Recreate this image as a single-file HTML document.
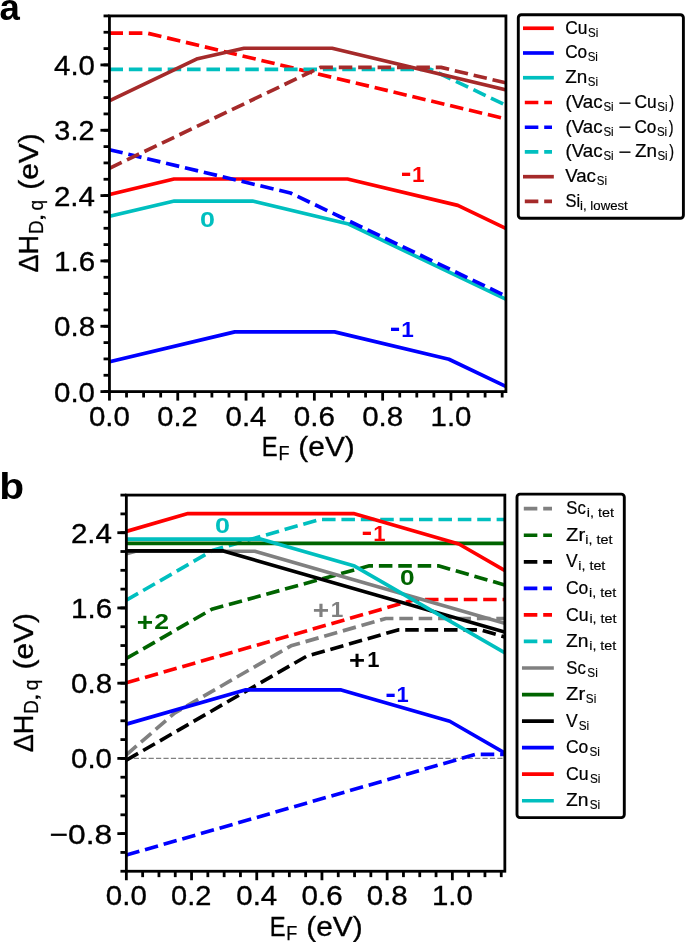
<!DOCTYPE html>
<html><head><meta charset="utf-8"><title>Formation energy diagrams</title>
<style>html,body{margin:0;padding:0;background:#fff;}body{width:685px;height:942px;overflow:hidden;font-family:"Liberation Sans",sans-serif;}svg{display:block;will-change:transform;}</style>
</head><body>
<svg width="685" height="942" viewBox="0 0 685 942" font-family="Liberation Sans, sans-serif">
<rect width="100%" height="100%" fill="#fff"/>
<defs>
<clipPath id="ca"><rect x="109.45" y="15.92" width="396.48" height="375.68"/></clipPath>
<clipPath id="cb"><rect x="126.35" y="495.09" width="378.49" height="376.16"/></clipPath>
</defs>
<path d="M109.45,194.45 L173.99,179.01 L347.48,179.01 L457.78,205.39 L505.93,228.42" fill="none" stroke="#ff0000" stroke-width="3.66" stroke-linejoin="round" stroke-linecap="square" clip-path="url(#ca)"/>
<path d="M109.45,361.87 L234.78,331.9 L334.5,331.9 L448.9,359.26 L505.93,386.54" fill="none" stroke="#0000ff" stroke-width="3.66" stroke-linejoin="round" stroke-linecap="square" clip-path="url(#ca)"/>
<path d="M109.45,216.17 L174.34,201.06 L252.54,201.06 L348.5,224.01 L505.93,299.31" fill="none" stroke="#00bfbf" stroke-width="3.66" stroke-linejoin="round" stroke-linecap="square" clip-path="url(#ca)"/>
<path d="M109.45,33.07 L147.01,33.07 L505.93,118.9" fill="none" stroke="#ff0000" stroke-width="3.66" stroke-linejoin="round" stroke-linecap="butt" stroke-dasharray="13.54,5.86" clip-path="url(#ca)"/>
<path d="M109.45,149.69 L290.44,192.98 L505.93,296.05" fill="none" stroke="#0000ff" stroke-width="3.66" stroke-linejoin="round" stroke-linecap="butt" stroke-dasharray="13.54,5.86" clip-path="url(#ca)"/>
<path d="M109.45,69.33 L430.8,69.33 L505.93,105.26" fill="none" stroke="#00bfbf" stroke-width="3.66" stroke-linejoin="round" stroke-linecap="butt" stroke-dasharray="13.54,5.86" clip-path="url(#ca)"/>
<path d="M109.45,100.85 L197.56,58.71 L244,48.26 L332.11,48.26 L505.93,89.83" fill="none" stroke="#a52a2a" stroke-width="3.66" stroke-linejoin="round" stroke-linecap="square" clip-path="url(#ca)"/>
<path d="M109.45,168.23 L320.33,67.37 L441.05,67.37 L505.93,82.89" fill="none" stroke="#a52a2a" stroke-width="3.66" stroke-linejoin="round" stroke-linecap="butt" stroke-dasharray="13.54,5.86" clip-path="url(#ca)"/>
<path d="M126.35,758.4 L504.84,758.4" stroke="#808080" stroke-width="1.4" stroke-dasharray="5.18,2.24" fill="none"/>
<path d="M126.35,754.83 L174.92,712.79 L290.98,645.83 L385.85,618.47 L504.84,618.47" fill="none" stroke="#808080" stroke-width="3.66" stroke-linejoin="round" stroke-linecap="butt" stroke-dasharray="13.54,5.86" clip-path="url(#cb)"/>
<path d="M126.35,658.53 L211.76,609.25 L369.38,565.81 L438.33,565.81 L504.84,584.99" fill="none" stroke="#006400" stroke-width="3.66" stroke-linejoin="round" stroke-linecap="butt" stroke-dasharray="13.54,5.86" clip-path="url(#cb)"/>
<path d="M126.35,760.19 L306.3,656.37 L397.91,629.94 L480.71,629.94 L504.84,636.9" fill="none" stroke="#000000" stroke-width="3.66" stroke-linejoin="round" stroke-linecap="butt" stroke-dasharray="13.54,5.86" clip-path="url(#cb)"/>
<path d="M126.35,855.07 L475.17,754.45 L504.84,754.45" fill="none" stroke="#0000ff" stroke-width="3.66" stroke-linejoin="round" stroke-linecap="butt" stroke-dasharray="13.54,5.86" clip-path="url(#cb)"/>
<path d="M126.35,682.79 L415.19,599.47 L504.84,599.47" fill="none" stroke="#ff0000" stroke-width="3.66" stroke-linejoin="round" stroke-linecap="butt" stroke-dasharray="13.54,5.86" clip-path="url(#cb)"/>
<path d="M126.35,600.22 L213.07,550.2 L319.34,519.54 L504.84,519.54" fill="none" stroke="#00bfbf" stroke-width="3.66" stroke-linejoin="round" stroke-linecap="butt" stroke-dasharray="13.54,5.86" clip-path="url(#cb)"/>
<path d="M126.35,553.86 L135.48,551.23 L254.79,551.23 L504.84,623.36" fill="none" stroke="#808080" stroke-width="3.66" stroke-linejoin="round" stroke-linecap="square" clip-path="url(#cb)"/>
<path d="M126.35,543.42 L504.84,543.42" fill="none" stroke="#006400" stroke-width="3.66" stroke-linejoin="round" stroke-linecap="square" clip-path="url(#cb)"/>
<path d="M126.35,550.95 L223.33,550.95 L504.84,632.15" fill="none" stroke="#000000" stroke-width="3.66" stroke-linejoin="round" stroke-linecap="square" clip-path="url(#cb)"/>
<path d="M126.35,724.17 L245.01,689.94 L341.18,689.94 L449.74,721.25 L504.84,753.04" fill="none" stroke="#0000ff" stroke-width="3.66" stroke-linejoin="round" stroke-linecap="square" clip-path="url(#cb)"/>
<path d="M126.35,531.39 L187.96,513.61 L353.57,513.61 L458.87,543.99 L504.84,570.51" fill="none" stroke="#ff0000" stroke-width="3.66" stroke-linejoin="round" stroke-linecap="square" clip-path="url(#cb)"/>
<path d="M126.35,539.19 L261.31,539.19 L354.55,566.09 L504.84,652.79" fill="none" stroke="#00bfbf" stroke-width="3.66" stroke-linejoin="round" stroke-linecap="square" clip-path="url(#cb)"/>
<line x1="109.45" y1="391.6" x2="103.55" y2="391.6" stroke="#000" stroke-width="2.8"/>
<line x1="109.45" y1="375.27" x2="103.55" y2="375.27" stroke="#000" stroke-width="2.8"/>
<line x1="109.45" y1="358.93" x2="103.55" y2="358.93" stroke="#000" stroke-width="2.8"/>
<line x1="109.45" y1="342.6" x2="103.55" y2="342.6" stroke="#000" stroke-width="2.8"/>
<line x1="109.45" y1="326.26" x2="103.55" y2="326.26" stroke="#000" stroke-width="2.8"/>
<line x1="109.45" y1="309.93" x2="103.55" y2="309.93" stroke="#000" stroke-width="2.8"/>
<line x1="109.45" y1="293.6" x2="103.55" y2="293.6" stroke="#000" stroke-width="2.8"/>
<line x1="109.45" y1="277.26" x2="103.55" y2="277.26" stroke="#000" stroke-width="2.8"/>
<line x1="109.45" y1="260.93" x2="103.55" y2="260.93" stroke="#000" stroke-width="2.8"/>
<line x1="109.45" y1="244.59" x2="103.55" y2="244.59" stroke="#000" stroke-width="2.8"/>
<line x1="109.45" y1="228.26" x2="103.55" y2="228.26" stroke="#000" stroke-width="2.8"/>
<line x1="109.45" y1="211.93" x2="103.55" y2="211.93" stroke="#000" stroke-width="2.8"/>
<line x1="109.45" y1="195.59" x2="103.55" y2="195.59" stroke="#000" stroke-width="2.8"/>
<line x1="109.45" y1="179.26" x2="103.55" y2="179.26" stroke="#000" stroke-width="2.8"/>
<line x1="109.45" y1="162.92" x2="103.55" y2="162.92" stroke="#000" stroke-width="2.8"/>
<line x1="109.45" y1="146.59" x2="103.55" y2="146.59" stroke="#000" stroke-width="2.8"/>
<line x1="109.45" y1="130.26" x2="103.55" y2="130.26" stroke="#000" stroke-width="2.8"/>
<line x1="109.45" y1="113.92" x2="103.55" y2="113.92" stroke="#000" stroke-width="2.8"/>
<line x1="109.45" y1="97.59" x2="103.55" y2="97.59" stroke="#000" stroke-width="2.8"/>
<line x1="109.45" y1="81.25" x2="103.55" y2="81.25" stroke="#000" stroke-width="2.8"/>
<line x1="109.45" y1="64.92" x2="103.55" y2="64.92" stroke="#000" stroke-width="2.8"/>
<line x1="109.45" y1="48.59" x2="103.55" y2="48.59" stroke="#000" stroke-width="2.8"/>
<line x1="109.45" y1="32.25" x2="103.55" y2="32.25" stroke="#000" stroke-width="2.8"/>
<line x1="109.45" y1="15.92" x2="103.55" y2="15.92" stroke="#000" stroke-width="2.8"/>
<line x1="109.45" y1="391.6" x2="100.45" y2="391.6" stroke="#000" stroke-width="2.8"/>
<line x1="109.45" y1="326.26" x2="100.45" y2="326.26" stroke="#000" stroke-width="2.8"/>
<line x1="109.45" y1="260.93" x2="100.45" y2="260.93" stroke="#000" stroke-width="2.8"/>
<line x1="109.45" y1="195.59" x2="100.45" y2="195.59" stroke="#000" stroke-width="2.8"/>
<line x1="109.45" y1="130.26" x2="100.45" y2="130.26" stroke="#000" stroke-width="2.8"/>
<line x1="109.45" y1="64.92" x2="100.45" y2="64.92" stroke="#000" stroke-width="2.8"/>
<line x1="109.45" y1="391.6" x2="109.45" y2="400.6" stroke="#000" stroke-width="2.8"/>
<line x1="126.53" y1="391.6" x2="126.53" y2="397.5" stroke="#000" stroke-width="2.8"/>
<line x1="143.6" y1="391.6" x2="143.6" y2="397.5" stroke="#000" stroke-width="2.8"/>
<line x1="160.68" y1="391.6" x2="160.68" y2="397.5" stroke="#000" stroke-width="2.8"/>
<line x1="177.75" y1="391.6" x2="177.75" y2="400.6" stroke="#000" stroke-width="2.8"/>
<line x1="194.82" y1="391.6" x2="194.82" y2="397.5" stroke="#000" stroke-width="2.8"/>
<line x1="211.9" y1="391.6" x2="211.9" y2="397.5" stroke="#000" stroke-width="2.8"/>
<line x1="228.98" y1="391.6" x2="228.98" y2="397.5" stroke="#000" stroke-width="2.8"/>
<line x1="246.05" y1="391.6" x2="246.05" y2="400.6" stroke="#000" stroke-width="2.8"/>
<line x1="263.12" y1="391.6" x2="263.12" y2="397.5" stroke="#000" stroke-width="2.8"/>
<line x1="280.2" y1="391.6" x2="280.2" y2="397.5" stroke="#000" stroke-width="2.8"/>
<line x1="297.28" y1="391.6" x2="297.28" y2="397.5" stroke="#000" stroke-width="2.8"/>
<line x1="314.35" y1="391.6" x2="314.35" y2="400.6" stroke="#000" stroke-width="2.8"/>
<line x1="331.43" y1="391.6" x2="331.43" y2="397.5" stroke="#000" stroke-width="2.8"/>
<line x1="348.5" y1="391.6" x2="348.5" y2="397.5" stroke="#000" stroke-width="2.8"/>
<line x1="365.57" y1="391.6" x2="365.57" y2="397.5" stroke="#000" stroke-width="2.8"/>
<line x1="382.65" y1="391.6" x2="382.65" y2="400.6" stroke="#000" stroke-width="2.8"/>
<line x1="399.73" y1="391.6" x2="399.73" y2="397.5" stroke="#000" stroke-width="2.8"/>
<line x1="416.8" y1="391.6" x2="416.8" y2="397.5" stroke="#000" stroke-width="2.8"/>
<line x1="433.88" y1="391.6" x2="433.88" y2="397.5" stroke="#000" stroke-width="2.8"/>
<line x1="450.95" y1="391.6" x2="450.95" y2="400.6" stroke="#000" stroke-width="2.8"/>
<line x1="468.02" y1="391.6" x2="468.02" y2="397.5" stroke="#000" stroke-width="2.8"/>
<line x1="485.1" y1="391.6" x2="485.1" y2="397.5" stroke="#000" stroke-width="2.8"/>
<line x1="502.18" y1="391.6" x2="502.18" y2="397.5" stroke="#000" stroke-width="2.8"/>
<rect x="109.45" y="15.92" width="396.48" height="375.68" fill="none" stroke="#000" stroke-width="2.8" stroke-linejoin="miter"/>
<text x="54.05" y="401.6" font-size="28.09" stroke="#000" stroke-width="0.35" fill="#000" textLength="40.94" lengthAdjust="spacingAndGlyphs">0.0</text>
<text x="54.05" y="336.26" font-size="28.09" stroke="#000" stroke-width="0.35" fill="#000" textLength="41.02" lengthAdjust="spacingAndGlyphs">0.8</text>
<text x="54.11" y="270.93" font-size="28.09" stroke="#000" stroke-width="0.35" fill="#000" textLength="41.12" lengthAdjust="spacingAndGlyphs">1.6</text>
<text x="53.91" y="205.59" font-size="28.09" stroke="#000" stroke-width="0.35" fill="#000" textLength="41.07" lengthAdjust="spacingAndGlyphs">2.4</text>
<text x="54.38" y="140.26" font-size="28.09" stroke="#000" stroke-width="0.35" fill="#000" textLength="40.02" lengthAdjust="spacingAndGlyphs">3.2</text>
<text x="54.07" y="74.92" font-size="28.09" stroke="#000" stroke-width="0.35" fill="#000" textLength="40.92" lengthAdjust="spacingAndGlyphs">4.0</text>
<text x="88.97" y="425.5" font-size="28.09" stroke="#000" stroke-width="0.35" fill="#000" textLength="40.94" lengthAdjust="spacingAndGlyphs">0.0</text>
<text x="157.29" y="425.5" font-size="28.09" stroke="#000" stroke-width="0.35" fill="#000" textLength="40.34" lengthAdjust="spacingAndGlyphs">0.2</text>
<text x="225.58" y="425.5" font-size="28.09" stroke="#000" stroke-width="0.35" fill="#000" textLength="40.92" lengthAdjust="spacingAndGlyphs">0.4</text>
<text x="293.87" y="425.5" font-size="28.09" stroke="#000" stroke-width="0.35" fill="#000" textLength="41.19" lengthAdjust="spacingAndGlyphs">0.6</text>
<text x="362.17" y="425.5" font-size="28.09" stroke="#000" stroke-width="0.35" fill="#000" textLength="41.02" lengthAdjust="spacingAndGlyphs">0.8</text>
<text x="430.55" y="425.5" font-size="28.09" stroke="#000" stroke-width="0.35" fill="#000" textLength="40.86" lengthAdjust="spacingAndGlyphs">1.0</text>
<line x1="126.35" y1="871.25" x2="120.45" y2="871.25" stroke="#000" stroke-width="2.8"/>
<line x1="126.35" y1="852.44" x2="120.45" y2="852.44" stroke="#000" stroke-width="2.8"/>
<line x1="126.35" y1="833.63" x2="120.45" y2="833.63" stroke="#000" stroke-width="2.8"/>
<line x1="126.35" y1="814.82" x2="120.45" y2="814.82" stroke="#000" stroke-width="2.8"/>
<line x1="126.35" y1="796.02" x2="120.45" y2="796.02" stroke="#000" stroke-width="2.8"/>
<line x1="126.35" y1="777.21" x2="120.45" y2="777.21" stroke="#000" stroke-width="2.8"/>
<line x1="126.35" y1="758.4" x2="120.45" y2="758.4" stroke="#000" stroke-width="2.8"/>
<line x1="126.35" y1="739.59" x2="120.45" y2="739.59" stroke="#000" stroke-width="2.8"/>
<line x1="126.35" y1="720.78" x2="120.45" y2="720.78" stroke="#000" stroke-width="2.8"/>
<line x1="126.35" y1="701.98" x2="120.45" y2="701.98" stroke="#000" stroke-width="2.8"/>
<line x1="126.35" y1="683.17" x2="120.45" y2="683.17" stroke="#000" stroke-width="2.8"/>
<line x1="126.35" y1="664.36" x2="120.45" y2="664.36" stroke="#000" stroke-width="2.8"/>
<line x1="126.35" y1="645.55" x2="120.45" y2="645.55" stroke="#000" stroke-width="2.8"/>
<line x1="126.35" y1="626.74" x2="120.45" y2="626.74" stroke="#000" stroke-width="2.8"/>
<line x1="126.35" y1="607.94" x2="120.45" y2="607.94" stroke="#000" stroke-width="2.8"/>
<line x1="126.35" y1="589.13" x2="120.45" y2="589.13" stroke="#000" stroke-width="2.8"/>
<line x1="126.35" y1="570.32" x2="120.45" y2="570.32" stroke="#000" stroke-width="2.8"/>
<line x1="126.35" y1="551.51" x2="120.45" y2="551.51" stroke="#000" stroke-width="2.8"/>
<line x1="126.35" y1="532.7" x2="120.45" y2="532.7" stroke="#000" stroke-width="2.8"/>
<line x1="126.35" y1="513.9" x2="120.45" y2="513.9" stroke="#000" stroke-width="2.8"/>
<line x1="126.35" y1="495.09" x2="120.45" y2="495.09" stroke="#000" stroke-width="2.8"/>
<line x1="126.35" y1="833.63" x2="117.35" y2="833.63" stroke="#000" stroke-width="2.8"/>
<line x1="126.35" y1="758.4" x2="117.35" y2="758.4" stroke="#000" stroke-width="2.8"/>
<line x1="126.35" y1="683.17" x2="117.35" y2="683.17" stroke="#000" stroke-width="2.8"/>
<line x1="126.35" y1="607.94" x2="117.35" y2="607.94" stroke="#000" stroke-width="2.8"/>
<line x1="126.35" y1="532.7" x2="117.35" y2="532.7" stroke="#000" stroke-width="2.8"/>
<line x1="126.35" y1="871.25" x2="126.35" y2="880.25" stroke="#000" stroke-width="2.8"/>
<line x1="142.65" y1="871.25" x2="142.65" y2="877.15" stroke="#000" stroke-width="2.8"/>
<line x1="158.95" y1="871.25" x2="158.95" y2="877.15" stroke="#000" stroke-width="2.8"/>
<line x1="175.25" y1="871.25" x2="175.25" y2="877.15" stroke="#000" stroke-width="2.8"/>
<line x1="191.55" y1="871.25" x2="191.55" y2="880.25" stroke="#000" stroke-width="2.8"/>
<line x1="207.85" y1="871.25" x2="207.85" y2="877.15" stroke="#000" stroke-width="2.8"/>
<line x1="224.15" y1="871.25" x2="224.15" y2="877.15" stroke="#000" stroke-width="2.8"/>
<line x1="240.45" y1="871.25" x2="240.45" y2="877.15" stroke="#000" stroke-width="2.8"/>
<line x1="256.75" y1="871.25" x2="256.75" y2="880.25" stroke="#000" stroke-width="2.8"/>
<line x1="273.05" y1="871.25" x2="273.05" y2="877.15" stroke="#000" stroke-width="2.8"/>
<line x1="289.35" y1="871.25" x2="289.35" y2="877.15" stroke="#000" stroke-width="2.8"/>
<line x1="305.65" y1="871.25" x2="305.65" y2="877.15" stroke="#000" stroke-width="2.8"/>
<line x1="321.95" y1="871.25" x2="321.95" y2="880.25" stroke="#000" stroke-width="2.8"/>
<line x1="338.25" y1="871.25" x2="338.25" y2="877.15" stroke="#000" stroke-width="2.8"/>
<line x1="354.55" y1="871.25" x2="354.55" y2="877.15" stroke="#000" stroke-width="2.8"/>
<line x1="370.85" y1="871.25" x2="370.85" y2="877.15" stroke="#000" stroke-width="2.8"/>
<line x1="387.15" y1="871.25" x2="387.15" y2="880.25" stroke="#000" stroke-width="2.8"/>
<line x1="403.45" y1="871.25" x2="403.45" y2="877.15" stroke="#000" stroke-width="2.8"/>
<line x1="419.75" y1="871.25" x2="419.75" y2="877.15" stroke="#000" stroke-width="2.8"/>
<line x1="436.05" y1="871.25" x2="436.05" y2="877.15" stroke="#000" stroke-width="2.8"/>
<line x1="452.35" y1="871.25" x2="452.35" y2="880.25" stroke="#000" stroke-width="2.8"/>
<line x1="468.65" y1="871.25" x2="468.65" y2="877.15" stroke="#000" stroke-width="2.8"/>
<line x1="484.95" y1="871.25" x2="484.95" y2="877.15" stroke="#000" stroke-width="2.8"/>
<line x1="501.25" y1="871.25" x2="501.25" y2="877.15" stroke="#000" stroke-width="2.8"/>
<rect x="126.35" y="495.09" width="378.49" height="376.16" fill="none" stroke="#000" stroke-width="2.8" stroke-linejoin="miter"/>
<text x="49.49" y="843.63" font-size="28.09" stroke="#000" stroke-width="0.35" fill="#000" textLength="62.67" lengthAdjust="spacingAndGlyphs">−0.8</text>
<text x="71.05" y="768.4" font-size="28.09" stroke="#000" stroke-width="0.35" fill="#000" textLength="40.94" lengthAdjust="spacingAndGlyphs">0.0</text>
<text x="71.05" y="693.17" font-size="28.09" stroke="#000" stroke-width="0.35" fill="#000" textLength="41.02" lengthAdjust="spacingAndGlyphs">0.8</text>
<text x="71.11" y="617.94" font-size="28.09" stroke="#000" stroke-width="0.35" fill="#000" textLength="41.12" lengthAdjust="spacingAndGlyphs">1.6</text>
<text x="70.91" y="542.7" font-size="28.09" stroke="#000" stroke-width="0.35" fill="#000" textLength="41.07" lengthAdjust="spacingAndGlyphs">2.4</text>
<text x="105.87" y="905.15" font-size="28.09" stroke="#000" stroke-width="0.35" fill="#000" textLength="40.94" lengthAdjust="spacingAndGlyphs">0.0</text>
<text x="171.09" y="905.15" font-size="28.09" stroke="#000" stroke-width="0.35" fill="#000" textLength="40.34" lengthAdjust="spacingAndGlyphs">0.2</text>
<text x="236.28" y="905.15" font-size="28.09" stroke="#000" stroke-width="0.35" fill="#000" textLength="40.92" lengthAdjust="spacingAndGlyphs">0.4</text>
<text x="301.47" y="905.15" font-size="28.09" stroke="#000" stroke-width="0.35" fill="#000" textLength="41.19" lengthAdjust="spacingAndGlyphs">0.6</text>
<text x="366.67" y="905.15" font-size="28.09" stroke="#000" stroke-width="0.35" fill="#000" textLength="41.02" lengthAdjust="spacingAndGlyphs">0.8</text>
<text x="431.95" y="905.15" font-size="28.09" stroke="#000" stroke-width="0.35" fill="#000" textLength="40.86" lengthAdjust="spacingAndGlyphs">1.0</text>
<text x="261.85" y="456" font-size="28.09" stroke="#000" stroke-width="0.35" fill="#000" textLength="15.88" lengthAdjust="spacingAndGlyphs">E</text>
<text x="278.42" y="460.2" font-size="19.66" stroke="#000" stroke-width="0.25" fill="#000" textLength="11" lengthAdjust="spacingAndGlyphs">F</text>
<text x="298.35" y="456" font-size="28.09" stroke="#000" stroke-width="0.35" fill="#000" textLength="56.4" lengthAdjust="spacingAndGlyphs">(eV)</text>
<text x="269.7" y="935.75" font-size="28.09" stroke="#000" stroke-width="0.35" fill="#000" textLength="15.88" lengthAdjust="spacingAndGlyphs">E</text>
<text x="286.27" y="939.95" font-size="19.66" stroke="#000" stroke-width="0.25" fill="#000" textLength="11" lengthAdjust="spacingAndGlyphs">F</text>
<text x="306.2" y="935.75" font-size="28.09" stroke="#000" stroke-width="0.35" fill="#000" textLength="56.4" lengthAdjust="spacingAndGlyphs">(eV)</text>
<text transform="translate(38.3,0) rotate(-90)" x="-272.51" y="0" font-size="28.09" stroke="#000" stroke-width="0.35" fill="#000" textLength="37.72" lengthAdjust="spacingAndGlyphs">ΔH</text>
<text transform="translate(42.8,0) rotate(-90)" x="-234.05" y="0" font-size="19.66" stroke="#000" stroke-width="0.25" fill="#000" textLength="13.66" lengthAdjust="spacingAndGlyphs">D</text>
<text transform="translate(42.8,0) rotate(-90)" x="-221.65" y="0" font-size="19.66" stroke="#000" stroke-width="0.25" fill="#000" textLength="8.49" lengthAdjust="spacingAndGlyphs">,</text>
<text transform="translate(42.8,0) rotate(-90)" x="-210.4" y="0" font-size="19.66" stroke="#000" stroke-width="0.25" fill="#000" textLength="10.62" lengthAdjust="spacingAndGlyphs">q</text>
<text transform="translate(38.3,0) rotate(-90)" x="-189.65" y="0" font-size="28.09" stroke="#000" stroke-width="0.35" fill="#000" textLength="56.3" lengthAdjust="spacingAndGlyphs">(eV)</text>
<text transform="translate(33.1,0) rotate(-90)" x="-752.31" y="0" font-size="28.09" stroke="#000" stroke-width="0.35" fill="#000" textLength="37.72" lengthAdjust="spacingAndGlyphs">ΔH</text>
<text transform="translate(37.6,0) rotate(-90)" x="-713.85" y="0" font-size="19.66" stroke="#000" stroke-width="0.25" fill="#000" textLength="13.66" lengthAdjust="spacingAndGlyphs">D</text>
<text transform="translate(37.6,0) rotate(-90)" x="-701.45" y="0" font-size="19.66" stroke="#000" stroke-width="0.25" fill="#000" textLength="8.49" lengthAdjust="spacingAndGlyphs">,</text>
<text transform="translate(37.6,0) rotate(-90)" x="-690.2" y="0" font-size="19.66" stroke="#000" stroke-width="0.25" fill="#000" textLength="10.62" lengthAdjust="spacingAndGlyphs">q</text>
<text transform="translate(33.1,0) rotate(-90)" x="-669.45" y="0" font-size="28.09" stroke="#000" stroke-width="0.35" fill="#000" textLength="56.3" lengthAdjust="spacingAndGlyphs">(eV)</text>
<text x="-0.47" y="20.34" font-size="37.24" font-weight="bold" fill="#000" textLength="20.34" lengthAdjust="spacingAndGlyphs">a</text>
<text x="-0.68" y="498.54" font-size="36.63" font-weight="bold" fill="#000" textLength="24.85" lengthAdjust="spacingAndGlyphs">b</text>
<text x="400.74" y="181.93" font-size="27.7" font-weight="bold" fill="#ff0000" textLength="10.75" lengthAdjust="spacingAndGlyphs">-</text>
<text x="411.98" y="181.7" font-size="22.67" font-weight="bold" fill="#ff0000" textLength="12.55" lengthAdjust="spacingAndGlyphs">1</text>
<text x="199.94" y="227.08" font-size="22.17" font-weight="bold" fill="#00bfbf" textLength="14.97" lengthAdjust="spacingAndGlyphs">0</text>
<text x="389.75" y="337.1" font-size="28.54" font-weight="bold" fill="#0000ff" textLength="10.62" lengthAdjust="spacingAndGlyphs">-</text>
<text x="401.18" y="336.5" font-size="22.38" font-weight="bold" fill="#0000ff" textLength="12.55" lengthAdjust="spacingAndGlyphs">1</text>
<text x="215.04" y="532.68" font-size="22.88" font-weight="bold" fill="#00bfbf" textLength="14.97" lengthAdjust="spacingAndGlyphs">0</text>
<text x="361.64" y="540.73" font-size="27.7" font-weight="bold" fill="#ff0000" textLength="10.75" lengthAdjust="spacingAndGlyphs">-</text>
<text x="373.21" y="540.5" font-size="22.53" font-weight="bold" fill="#ff0000" textLength="12.31" lengthAdjust="spacingAndGlyphs">1</text>
<text x="399.96" y="585.29" font-size="21.61" font-weight="bold" fill="#006400" textLength="14.62" lengthAdjust="spacingAndGlyphs">0</text>
<text x="136.72" y="631.09" font-size="26.58" font-weight="bold" fill="#006400" textLength="16.42" lengthAdjust="spacingAndGlyphs">+</text>
<text x="154.38" y="629" font-size="22.63" font-weight="bold" fill="#006400" textLength="14.79" lengthAdjust="spacingAndGlyphs">2</text>
<text x="312.72" y="619.09" font-size="26.58" font-weight="bold" fill="#808080" textLength="16.42" lengthAdjust="spacingAndGlyphs">+</text>
<text x="330.88" y="617" font-size="22.38" font-weight="bold" fill="#808080" textLength="12.55" lengthAdjust="spacingAndGlyphs">1</text>
<text x="349.04" y="668.79" font-size="26.58" font-weight="bold" fill="#000000" textLength="16.07" lengthAdjust="spacingAndGlyphs">+</text>
<text x="367.22" y="666.7" font-size="21.95" font-weight="bold" fill="#000000" textLength="12.19" lengthAdjust="spacingAndGlyphs">1</text>
<text x="385.34" y="702.63" font-size="27.7" font-weight="bold" fill="#0000ff" textLength="10.75" lengthAdjust="spacingAndGlyphs">-</text>
<text x="396.52" y="702" font-size="21.95" font-weight="bold" fill="#0000ff" textLength="12.19" lengthAdjust="spacingAndGlyphs">1</text>
<rect x="518.3" y="14.7" width="165.1" height="203.6" rx="3" ry="3" fill="#fff" stroke="#000" stroke-width="2.9"/>
<path d="M524.8,28.25 L552,28.25" stroke="#ff0000" stroke-width="3.66" stroke-linecap="square" fill="none"/>
<text x="565.17" y="33.6" font-size="18.02" stroke="#000" stroke-width="0.23" fill="#000" textLength="22.18" lengthAdjust="spacingAndGlyphs">Cu</text>
<text x="588" y="36.6" font-size="12.61" stroke="#000" stroke-width="0.16" fill="#000" textLength="10.26" lengthAdjust="spacingAndGlyphs">Si</text>
<path d="M524.8,52.99 L552,52.99" stroke="#0000ff" stroke-width="3.66" stroke-linecap="square" fill="none"/>
<text x="565.18" y="58.34" font-size="18.02" stroke="#000" stroke-width="0.23" fill="#000" textLength="21.98" lengthAdjust="spacingAndGlyphs">Co</text>
<text x="587.63" y="61.34" font-size="12.61" stroke="#000" stroke-width="0.16" fill="#000" textLength="10.26" lengthAdjust="spacingAndGlyphs">Si</text>
<path d="M524.8,77.73 L552,77.73" stroke="#00bfbf" stroke-width="3.66" stroke-linecap="square" fill="none"/>
<text x="565.26" y="83.08" font-size="18.02" stroke="#000" stroke-width="0.23" fill="#000" textLength="22.04" lengthAdjust="spacingAndGlyphs">Zn</text>
<text x="587.78" y="86.08" font-size="12.61" stroke="#000" stroke-width="0.16" fill="#000" textLength="10.26" lengthAdjust="spacingAndGlyphs">Si</text>
<path d="M524.8,102.47 L552,102.47" stroke="#ff0000" stroke-width="3.66" stroke-dasharray="13.54,5.86" fill="none"/>
<text x="565.44" y="107.82" font-size="18.02" stroke="#000" stroke-width="0.23" fill="#000" textLength="37.11" lengthAdjust="spacingAndGlyphs">(Vac</text>
<text x="603.39" y="110.82" font-size="12.61" stroke="#000" stroke-width="0.16" fill="#000" textLength="10.26" lengthAdjust="spacingAndGlyphs">Si</text>
<text x="618.52" y="108.52" font-size="18.02" stroke="#000" stroke-width="0.23" fill="#000" textLength="12.79" lengthAdjust="spacingAndGlyphs">−</text>
<text x="634.42" y="107.82" font-size="18.02" stroke="#000" stroke-width="0.23" fill="#000" textLength="22.18" lengthAdjust="spacingAndGlyphs">Cu</text>
<text x="657.25" y="110.82" font-size="12.61" stroke="#000" stroke-width="0.16" fill="#000" textLength="10.26" lengthAdjust="spacingAndGlyphs">Si</text>
<text x="669.13" y="107.82" font-size="18.02" stroke="#000" stroke-width="0.23" fill="#000" textLength="4.79" lengthAdjust="spacingAndGlyphs">)</text>
<path d="M524.8,127.21 L552,127.21" stroke="#0000ff" stroke-width="3.66" stroke-dasharray="13.54,5.86" fill="none"/>
<text x="565.44" y="132.56" font-size="18.02" stroke="#000" stroke-width="0.23" fill="#000" textLength="37.11" lengthAdjust="spacingAndGlyphs">(Vac</text>
<text x="603.39" y="135.56" font-size="12.61" stroke="#000" stroke-width="0.16" fill="#000" textLength="10.26" lengthAdjust="spacingAndGlyphs">Si</text>
<text x="618.52" y="133.26" font-size="18.02" stroke="#000" stroke-width="0.23" fill="#000" textLength="12.79" lengthAdjust="spacingAndGlyphs">−</text>
<text x="634.43" y="132.56" font-size="18.02" stroke="#000" stroke-width="0.23" fill="#000" textLength="21.98" lengthAdjust="spacingAndGlyphs">Co</text>
<text x="656.88" y="135.56" font-size="12.61" stroke="#000" stroke-width="0.16" fill="#000" textLength="10.26" lengthAdjust="spacingAndGlyphs">Si</text>
<text x="668.75" y="132.56" font-size="18.02" stroke="#000" stroke-width="0.23" fill="#000" textLength="4.79" lengthAdjust="spacingAndGlyphs">)</text>
<path d="M524.8,151.95 L552,151.95" stroke="#00bfbf" stroke-width="3.66" stroke-dasharray="13.54,5.86" fill="none"/>
<text x="565.44" y="157.3" font-size="18.02" stroke="#000" stroke-width="0.23" fill="#000" textLength="37.11" lengthAdjust="spacingAndGlyphs">(Vac</text>
<text x="603.39" y="160.3" font-size="12.61" stroke="#000" stroke-width="0.16" fill="#000" textLength="10.26" lengthAdjust="spacingAndGlyphs">Si</text>
<text x="618.52" y="158" font-size="18.02" stroke="#000" stroke-width="0.23" fill="#000" textLength="12.79" lengthAdjust="spacingAndGlyphs">−</text>
<text x="634.9" y="157.3" font-size="18.02" stroke="#000" stroke-width="0.23" fill="#000" textLength="22.04" lengthAdjust="spacingAndGlyphs">Zn</text>
<text x="657.42" y="160.3" font-size="12.61" stroke="#000" stroke-width="0.16" fill="#000" textLength="10.26" lengthAdjust="spacingAndGlyphs">Si</text>
<text x="669.29" y="157.3" font-size="18.02" stroke="#000" stroke-width="0.23" fill="#000" textLength="4.79" lengthAdjust="spacingAndGlyphs">)</text>
<path d="M524.8,176.69 L552,176.69" stroke="#a52a2a" stroke-width="3.66" stroke-linecap="square" fill="none"/>
<text x="565.15" y="182.04" font-size="18.02" stroke="#000" stroke-width="0.23" fill="#000" textLength="30.76" lengthAdjust="spacingAndGlyphs">Vac</text>
<text x="596.75" y="185.04" font-size="12.61" stroke="#000" stroke-width="0.16" fill="#000" textLength="10.26" lengthAdjust="spacingAndGlyphs">Si</text>
<path d="M524.8,201.43 L552,201.43" stroke="#a52a2a" stroke-width="3.66" stroke-dasharray="13.54,5.86" fill="none"/>
<text x="565.47" y="206.78" font-size="18.02" stroke="#000" stroke-width="0.23" fill="#000" textLength="14.66" lengthAdjust="spacingAndGlyphs">Si</text>
<text x="580.12" y="209.78" font-size="12.61" stroke="#000" stroke-width="0.16" fill="#000" textLength="47.68" lengthAdjust="spacingAndGlyphs">i, lowest</text>
<rect x="517" y="494.1" width="107.3" height="323.5" rx="3" ry="3" fill="#fff" stroke="#000" stroke-width="2.9"/>
<path d="M523.8,508.7 L552,508.7" stroke="#808080" stroke-width="3.66" stroke-dasharray="13.54,5.86" fill="none"/>
<text x="566.28" y="514.3" font-size="18.34" stroke="#000" stroke-width="0.23" fill="#000" textLength="19.48" lengthAdjust="spacingAndGlyphs">Sc</text>
<text x="586.87" y="517.2" font-size="12.84" stroke="#000" stroke-width="0.16" fill="#000" textLength="27.17" lengthAdjust="spacingAndGlyphs">i, tet</text>
<path d="M523.8,535.25 L552,535.25" stroke="#006400" stroke-width="3.66" stroke-dasharray="13.54,5.86" fill="none"/>
<text x="566.03" y="540.85" font-size="18.34" stroke="#000" stroke-width="0.23" fill="#000" textLength="19.17" lengthAdjust="spacingAndGlyphs">Zr</text>
<text x="585.34" y="543.75" font-size="12.84" stroke="#000" stroke-width="0.16" fill="#000" textLength="27.17" lengthAdjust="spacingAndGlyphs">i, tet</text>
<path d="M523.8,561.8 L552,561.8" stroke="#000000" stroke-width="3.66" stroke-dasharray="13.54,5.86" fill="none"/>
<text x="565.96" y="567.4" font-size="18.34" stroke="#000" stroke-width="0.23" fill="#000" textLength="11.71" lengthAdjust="spacingAndGlyphs">V</text>
<text x="578.21" y="570.3" font-size="12.84" stroke="#000" stroke-width="0.16" fill="#000" textLength="27.17" lengthAdjust="spacingAndGlyphs">i, tet</text>
<path d="M523.8,588.35 L552,588.35" stroke="#0000ff" stroke-width="3.66" stroke-dasharray="13.54,5.86" fill="none"/>
<text x="565.98" y="593.95" font-size="18.34" stroke="#000" stroke-width="0.23" fill="#000" textLength="22.37" lengthAdjust="spacingAndGlyphs">Co</text>
<text x="589.04" y="596.85" font-size="12.84" stroke="#000" stroke-width="0.16" fill="#000" textLength="27.17" lengthAdjust="spacingAndGlyphs">i, tet</text>
<path d="M523.8,614.9 L552,614.9" stroke="#ff0000" stroke-width="3.66" stroke-dasharray="13.54,5.86" fill="none"/>
<text x="565.97" y="620.5" font-size="18.34" stroke="#000" stroke-width="0.23" fill="#000" textLength="22.57" lengthAdjust="spacingAndGlyphs">Cu</text>
<text x="589.42" y="623.4" font-size="12.84" stroke="#000" stroke-width="0.16" fill="#000" textLength="27.17" lengthAdjust="spacingAndGlyphs">i, tet</text>
<path d="M523.8,641.45 L552,641.45" stroke="#00bfbf" stroke-width="3.66" stroke-dasharray="13.54,5.86" fill="none"/>
<text x="566.07" y="647.05" font-size="18.34" stroke="#000" stroke-width="0.23" fill="#000" textLength="22.43" lengthAdjust="spacingAndGlyphs">Zn</text>
<text x="589.2" y="649.95" font-size="12.84" stroke="#000" stroke-width="0.16" fill="#000" textLength="27.17" lengthAdjust="spacingAndGlyphs">i, tet</text>
<path d="M523.8,668 L552,668" stroke="#808080" stroke-width="3.66" stroke-linecap="square" fill="none"/>
<text x="566.28" y="673.6" font-size="18.34" stroke="#000" stroke-width="0.23" fill="#000" textLength="19.48" lengthAdjust="spacingAndGlyphs">Sc</text>
<text x="587.36" y="676.5" font-size="12.84" stroke="#000" stroke-width="0.16" fill="#000" textLength="10.44" lengthAdjust="spacingAndGlyphs">Si</text>
<path d="M523.8,694.55 L552,694.55" stroke="#006400" stroke-width="3.66" stroke-linecap="square" fill="none"/>
<text x="566.03" y="700.15" font-size="18.34" stroke="#000" stroke-width="0.23" fill="#000" textLength="19.17" lengthAdjust="spacingAndGlyphs">Zr</text>
<text x="585.83" y="703.05" font-size="12.84" stroke="#000" stroke-width="0.16" fill="#000" textLength="10.44" lengthAdjust="spacingAndGlyphs">Si</text>
<path d="M523.8,721.1 L552,721.1" stroke="#000000" stroke-width="3.66" stroke-linecap="square" fill="none"/>
<text x="565.96" y="726.7" font-size="18.34" stroke="#000" stroke-width="0.23" fill="#000" textLength="11.71" lengthAdjust="spacingAndGlyphs">V</text>
<text x="578.7" y="729.6" font-size="12.84" stroke="#000" stroke-width="0.16" fill="#000" textLength="10.44" lengthAdjust="spacingAndGlyphs">Si</text>
<path d="M523.8,747.65 L552,747.65" stroke="#0000ff" stroke-width="3.66" stroke-linecap="square" fill="none"/>
<text x="565.98" y="753.25" font-size="18.34" stroke="#000" stroke-width="0.23" fill="#000" textLength="22.37" lengthAdjust="spacingAndGlyphs">Co</text>
<text x="589.53" y="756.15" font-size="12.84" stroke="#000" stroke-width="0.16" fill="#000" textLength="10.44" lengthAdjust="spacingAndGlyphs">Si</text>
<path d="M523.8,774.2 L552,774.2" stroke="#ff0000" stroke-width="3.66" stroke-linecap="square" fill="none"/>
<text x="565.97" y="779.8" font-size="18.34" stroke="#000" stroke-width="0.23" fill="#000" textLength="22.57" lengthAdjust="spacingAndGlyphs">Cu</text>
<text x="589.91" y="782.7" font-size="12.84" stroke="#000" stroke-width="0.16" fill="#000" textLength="10.44" lengthAdjust="spacingAndGlyphs">Si</text>
<path d="M523.8,800.75 L552,800.75" stroke="#00bfbf" stroke-width="3.66" stroke-linecap="square" fill="none"/>
<text x="566.07" y="806.35" font-size="18.34" stroke="#000" stroke-width="0.23" fill="#000" textLength="22.43" lengthAdjust="spacingAndGlyphs">Zn</text>
<text x="589.68" y="809.25" font-size="12.84" stroke="#000" stroke-width="0.16" fill="#000" textLength="10.44" lengthAdjust="spacingAndGlyphs">Si</text>
</svg>
</body></html>
